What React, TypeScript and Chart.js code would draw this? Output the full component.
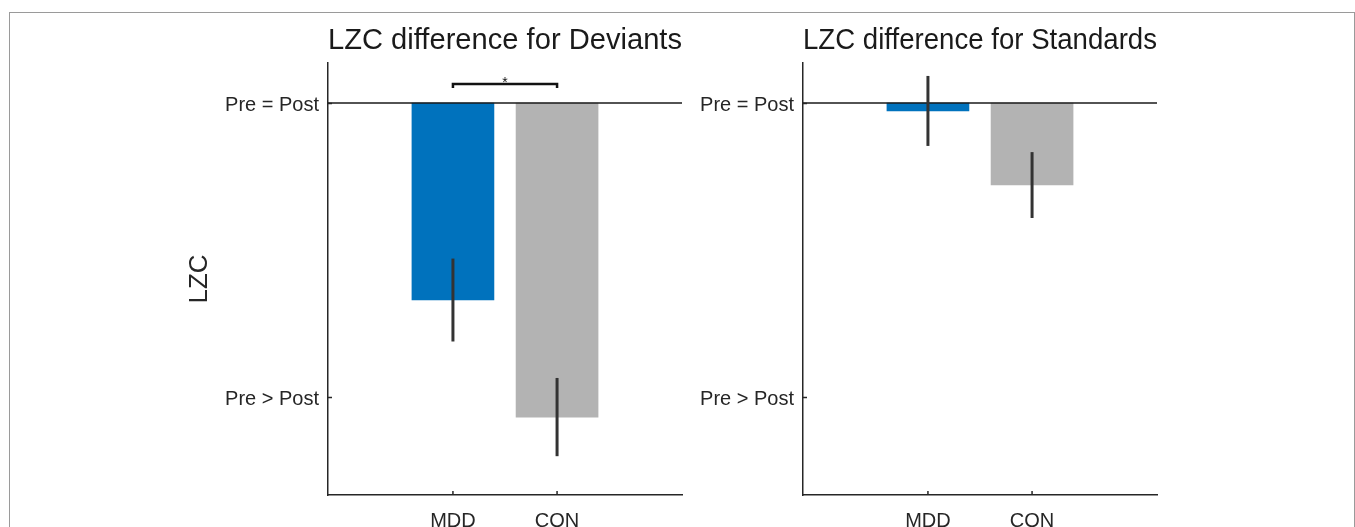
import React, { useEffect, useRef } from 'react';
import { Chart, registerables } from 'chart.js';

Chart.register(...registerables);

// ---- data ----
const groups = ['MDD', 'CON'];
const groupPositions = [1, 2];
const deviantMeans = [-0.67, -1.068];
const deviantErrors = [0.141, 0.133];
const standardMeans = [-0.027, -0.279];
const standardErrors = [0.119, 0.112];
const yTickValues = [-1, 0];
const yTickLabels = ['Pre > Post', 'Pre = Post'];
const barColors = ['#0072BD', '#B3B3B3'];
const xRange = [-0.2, 3.2];
const yRange = [-1.333, 0.136];
const deviantSignificance = { from: 1, to: 2, y: 0.065, drop: 0.014, label: '*' };

const FONT = "'Liberation Sans', Arial, Helvetica, sans-serif";
const TEXT = '#262626';
const AXIS = '#262626';

type PanelCfg = {
  left: number;
  width: number;
  padLeft: number;
  padRight: number;
  yWidth: number;
  title: string;
  yTitle?: string;
  means: number[];
  errors: number[];
  sig?: typeof deviantSignificance;
};

function buildConfig(cfg: PanelCfg): any {
  const overlay = {
    id: 'overlay',
    afterDatasetsDraw(chart: any) {
      const { ctx, chartArea } = chart;
      const xs = chart.scales.x;
      const ys = chart.scales.y;
      ctx.save();
      // inward tick marks
      ctx.strokeStyle = AXIS;
      ctx.lineWidth = 1.5;
      yTickValues.forEach((v) => {
        const py = Math.round(ys.getPixelForValue(v)) + 0.5;
        ctx.beginPath();
        ctx.moveTo(chartArea.left, py);
        ctx.lineTo(chartArea.left + 4, py);
        ctx.stroke();
      });
      groupPositions.forEach((v) => {
        const px = xs.getPixelForValue(v);
        ctx.beginPath();
        ctx.moveTo(px, chartArea.bottom);
        ctx.lineTo(px, chartArea.bottom - 4);
        ctx.stroke();
      });
      // error bars
      ctx.strokeStyle = '#333333';
      ctx.lineWidth = 3;
      ctx.lineCap = 'butt';
      cfg.means.forEach((m, i) => {
        const px = xs.getPixelForValue(groupPositions[i]);
        ctx.beginPath();
        ctx.moveTo(px, ys.getPixelForValue(m + cfg.errors[i]));
        ctx.lineTo(px, ys.getPixelForValue(m - cfg.errors[i]));
        ctx.stroke();
      });
      // significance bracket
      if (cfg.sig) {
        const s = cfg.sig;
        const x1 = xs.getPixelForValue(s.from);
        const x2 = xs.getPixelForValue(s.to);
        const yb = ys.getPixelForValue(s.y);
        const yd = ys.getPixelForValue(s.y - s.drop);
        ctx.strokeStyle = '#111111';
        ctx.lineWidth = 2.5;
        ctx.lineJoin = 'miter';
        ctx.beginPath();
        ctx.moveTo(x1, yd);
        ctx.lineTo(x1, yb);
        ctx.lineTo(x2, yb);
        ctx.lineTo(x2, yd);
        ctx.stroke();
        ctx.fillStyle = '#111111';
        ctx.font = `14px ${FONT}`;
        ctx.textAlign = 'center';
        ctx.textBaseline = 'top';
        ctx.fillText(s.label, (x1 + x2) / 2, yb - 8);
      }
      ctx.restore();
    },
  };

  return {
    type: 'bar',
    data: {
      datasets: [
        {
          type: 'line',
          data: [
            { x: xRange[0], y: 0 },
            { x: xRange[1], y: 0 },
          ],
          borderColor: '#1a1a1a',
          borderWidth: 1.3,
          pointRadius: 0,
          order: 0,
        },
        {
          type: 'bar',
          data: groupPositions.map((x, i) => ({ x, y: cfg.means[i] })),
          backgroundColor: barColors,
          borderWidth: 0,
          barThickness: 82,
          order: 1,
        },
      ],
    },
    options: {
      responsive: false,
      animation: false,
      devicePixelRatio: 1,
      layout: { padding: { left: cfg.padLeft, right: cfg.padRight, top: 0, bottom: 0 } },
      plugins: {
        legend: { display: false },
        tooltip: { enabled: false },
        title: {
          display: true,
          text: cfg.title,
          fullSize: false,
          color: '#1a1a1a',
          font: { family: FONT, size: 30, weight: 'normal' },
          padding: { top: 22.5, bottom: 4.5 },
        },
      },
      scales: {
        x: {
          type: 'linear',
          min: xRange[0],
          max: xRange[1],
          offset: false,
          bounds: 'data',
          afterBuildTicks: (s: any) => {
            s.ticks = groupPositions.map((v) => ({ value: v }));
          },
          afterFit: (s: any) => {
            s.height = 32;
          },
          ticks: {
            callback: (v: number) => groups[groupPositions.indexOf(v)] ?? '',
            color: TEXT,
            font: { family: FONT, size: 20 },
            padding: 14,
            maxRotation: 0,
            autoSkip: false,
          },
          grid: { display: false, drawTicks: false, offset: false },
          border: { display: true, color: AXIS, width: 1.5 },
        },
        y: {
          type: 'linear',
          min: yRange[0],
          max: yRange[1],
          bounds: 'data',
          afterBuildTicks: (s: any) => {
            s.ticks = yTickValues.map((v) => ({ value: v }));
          },
          afterFit: (s: any) => {
            s.width = cfg.yWidth;
          },
          ticks: {
            callback: (v: number) => yTickLabels[yTickValues.indexOf(v)] ?? '',
            color: TEXT,
            font: { family: FONT, size: 20 },
            padding: 9,
            labelOffset: 2.5,
            autoSkip: false,
          },
          grid: { display: false, drawTicks: false },
          border: { display: true, color: AXIS, width: 1.5 },
          title: {
            display: !!cfg.yTitle,
            text: cfg.yTitle ?? '',
            color: TEXT,
            font: { family: FONT, size: 26 },
            padding: 0,
          },
        },
      },
    },
    plugins: [overlay],
  };
}

function Panel({ cfg }: { cfg: PanelCfg }) {
  const ref = useRef<HTMLCanvasElement>(null);
  useEffect(() => {
    const chart = new Chart(ref.current as HTMLCanvasElement, buildConfig(cfg));
    return () => chart.destroy();
  }, []);
  return (
    <canvas
      ref={ref}
      width={cfg.width}
      height={527}
      style={{ position: 'absolute', left: cfg.left, top: 0, width: cfg.width, height: 527 }}
    />
  );
}

const deviantPanel: PanelCfg = {
  left: 0,
  width: 692,
  padLeft: 184,
  padRight: 10,
  yWidth: 144,
  title: 'LZC difference for Deviants',
  yTitle: 'LZC',
  means: deviantMeans,
  errors: deviantErrors,
  sig: deviantSignificance,
};

const standardPanel: PanelCfg = {
  left: 692,
  width: 663,
  padLeft: 0,
  padRight: 198,
  yWidth: 111,
  title: 'LZC difference for Standards',
  means: standardMeans,
  errors: standardErrors,
};

export default function App() {
  return (
    <div
      style={{
        position: 'fixed',
        left: 0,
        top: 0,
        width: 1355,
        height: 527,
        overflow: 'hidden',
        background: '#ffffff',
      }}
    >
      <div
        style={{
          position: 'absolute',
          left: 9,
          top: 12,
          width: 1346,
          height: 600,
          boxSizing: 'border-box',
          border: '1px solid #9a9a9a',
        }}
      />
      <Panel cfg={deviantPanel} />
      <Panel cfg={standardPanel} />
    </div>
  );
}
